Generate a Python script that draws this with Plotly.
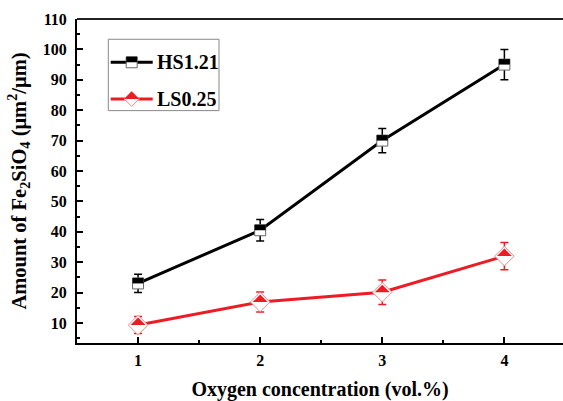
import plotly.graph_objects as go

oxygen = [1, 2, 3, 4]
hs_vals = [23.0, 40.5, 70.0, 95.0]
hs_err = [3.0, 3.5, 4.0, 5.0]
ls_vals = [9.3, 16.9, 20.1, 32.0]
ls_err = [2.8, 3.3, 4.0, 4.5]
series_names = ["HS1.21", "LS0.25"]

BLACK = "#000000"
RED = "#ED1C24"
FONT = "Liberation Serif"

fig = go.Figure()

fig.add_trace(go.Scatter(
    x=oxygen, y=hs_vals, mode="lines+markers", name=series_names[0],
    line=dict(color=BLACK, width=3),
    marker=dict(symbol="square", size=11, color="white", line=dict(color="#666666", width=1)),
    error_y=dict(type="data", array=hs_err, color=BLACK, thickness=1.5, width=4),
    showlegend=False,
))
fig.add_trace(go.Scatter(
    x=oxygen, y=ls_vals, mode="lines+markers", name=series_names[1],
    line=dict(color=RED, width=3),
    marker=dict(symbol="diamond", size=15, color="white", line=dict(color="#F58A8E", width=1)),
    error_y=dict(type="data", array=ls_err, color=RED, thickness=1.5, width=4),
    showlegend=False,
))

shapes = []
# top frame line
shapes.append(dict(type="line", xref="paper", yref="paper", x0=0, x1=1, y0=1, y1=1,
                   line=dict(color="#222222", width=2)))
# half-filled markers (top halves)
for xv, yv in zip(oxygen, hs_vals):
    shapes.append(dict(type="rect", xref="x", yref="y", xsizemode="pixel", ysizemode="pixel",
                       xanchor=xv, yanchor=yv, x0=-5.5, x1=5.5, y0=0, y1=5.5,
                       fillcolor=BLACK, line=dict(width=0)))
for xv, yv in zip(oxygen, ls_vals):
    shapes.append(dict(type="path", xref="x", yref="y", xsizemode="pixel", ysizemode="pixel",
                       xanchor=xv, yanchor=yv, path="M -7.5 0 L 0 7.5 L 7.5 0 Z",
                       fillcolor=RED, line=dict(width=0)))

# manual legend (page pixel positions converted to paper fractions)
left_px, plot_w = 77.0, 486.0
bottom_px, plot_h = 343.3, 324.3
def px(x):
    return (x - left_px) / plot_w
def py(y):
    return (bottom_px - y) / plot_h

shapes.append(dict(type="rect", xref="paper", yref="paper", x0=px(108.3), x1=px(219), y0=py(110.7), y1=py(39.3),
                   line=dict(color="#888888", width=1), fillcolor="white", layer="above"))
legend_rows = [(62.3, BLACK, "square"), (99.0, RED, "diamond")]
annotations = []
for (ypix, col, sym), name in zip(legend_rows, series_names):
    shapes.append(dict(type="line", xref="paper", yref="paper", x0=px(110.7), x1=px(152.7), y0=py(ypix), y1=py(ypix),
                       line=dict(color=col, width=3)))
    cx = px(131.7)
    cy = py(ypix)
    if sym == "square":
        shapes.append(dict(type="rect", xref="paper", yref="paper", xsizemode="pixel", ysizemode="pixel",
                           xanchor=cx, yanchor=cy, x0=-5.5, x1=5.5, y0=-5.5, y1=5.5,
                           fillcolor="white", line=dict(color="#666666", width=1)))
        shapes.append(dict(type="rect", xref="paper", yref="paper", xsizemode="pixel", ysizemode="pixel",
                           xanchor=cx, yanchor=cy, x0=-5.5, x1=5.5, y0=0, y1=5.5,
                           fillcolor=BLACK, line=dict(width=0)))
    else:
        shapes.append(dict(type="path", xref="paper", yref="paper", xsizemode="pixel", ysizemode="pixel",
                           xanchor=cx, yanchor=cy, path="M -7.5 0 L 0 7.5 L 7.5 0 L 0 -7.5 Z",
                           fillcolor="white", line=dict(color="#F58A8E", width=1)))
        shapes.append(dict(type="path", xref="paper", yref="paper", xsizemode="pixel", ysizemode="pixel",
                           xanchor=cx, yanchor=cy, path="M -7.5 0 L 0 7.5 L 7.5 0 Z",
                           fillcolor=RED, line=dict(width=0)))
    annotations.append(dict(xref="paper", yref="paper", x=px(155.0), y=cy, text=name, showarrow=False,
                            xanchor="left", yanchor="middle",
                            font=dict(family=FONT, size=20, color=BLACK, weight="bold")))

fig.update_layout(
    width=563, height=401,
    margin=dict(l=77, r=0, t=19, b=58),
    paper_bgcolor="white", plot_bgcolor="white",
    font=dict(family=FONT, size=16, color=BLACK, weight="bold"),
    shapes=shapes, annotations=annotations,
    xaxis=dict(
        range=[0.5, 4.48], tick0=0, dtick=1, showgrid=False, zeroline=False, automargin=False,
        showline=True, linecolor=BLACK, linewidth=2, mirror=False,
        ticks="inside", ticklen=6, tickwidth=2, tickcolor=BLACK,
        minor=dict(dtick=0.5, ticks="inside", ticklen=3, tickwidth=2, tickcolor=BLACK),
        tickfont=dict(family=FONT, size=16, weight="bold"), ticklabelstandoff=2,
        title=dict(text="Oxygen concentration (vol.%)", font=dict(family=FONT, size=20, weight="bold"), standoff=18),
    ),
    yaxis=dict(
        range=[3.4, 110], tick0=0, dtick=10, showgrid=False, zeroline=False, automargin=False,
        showline=True, linecolor=BLACK, linewidth=2, mirror=False,
        ticks="inside", ticklen=6, tickwidth=2, tickcolor=BLACK,
        minor=dict(dtick=5, ticks="inside", ticklen=3, tickwidth=2, tickcolor=BLACK),
        tickfont=dict(family=FONT, size=16, weight="bold"), ticklabelstandoff=5,
        title=dict(text="Amount of Fe<sub>2</sub>SiO<sub>4</sub> (μm<sup>2</sup>/μm)",
                   font=dict(family=FONT, size=20.5, weight="bold"), standoff=11),
    ),
)

fig.write_html("out.html", config={"displayModeBar": False},
               post_script=("document.documentElement.style.overflow='hidden';"
                            "document.documentElement.style.margin='0';"
                            "document.body.style.margin='0';document.body.style.overflow='hidden';"))
